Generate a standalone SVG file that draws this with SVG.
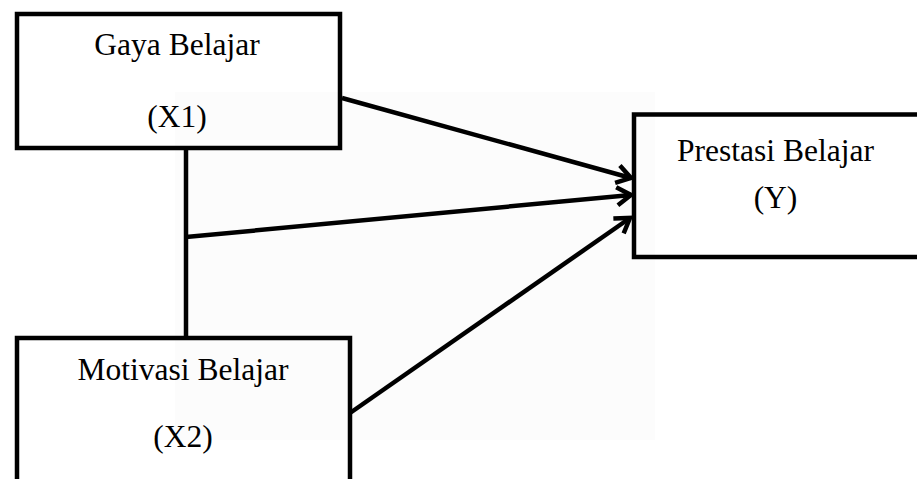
<svg xmlns="http://www.w3.org/2000/svg" width="917" height="479" viewBox="0 0 917 479">
<style>
.box{fill:none;stroke:#000;stroke-width:4.5}
.lbl{font-family:"Liberation Serif","Times New Roman",serif;font-size:31.5px;fill:#000;text-anchor:middle}
.con{fill:none;stroke:#000;stroke-width:4.5}
</style>
<defs>
<marker id="arr" markerUnits="userSpaceOnUse" markerWidth="24" markerHeight="24" refX="20" refY="12" orient="auto" viewBox="0 0 24 24">
<path d="M6,3 L20,12 L6,21" fill="none" stroke="#000" stroke-width="4.5" stroke-linejoin="miter"/>
</marker>
</defs>
<rect x="0" y="0" width="917" height="479" fill="#fff"/>
<rect x="175" y="92" width="480" height="348" fill="#fcfcfc"/>
<g id="connectors">
<line class="con" x1="186" y1="150" x2="186" y2="338"/>
<line class="con" x1="186" y1="237" x2="631" y2="195" marker-end="url(#arr)"/>
<line class="con" x1="342" y1="98" x2="631" y2="178" marker-end="url(#arr)"/>
<line class="con" x1="350" y1="413" x2="630" y2="218" marker-end="url(#arr)"/>
</g>
<g id="node-x1">
<rect class="box" x="17" y="14" width="323" height="134"/>
<text class="lbl" x="177" y="55">Gaya Belajar</text>
<text class="lbl" x="177" y="127">(X1)</text>
</g>
<g id="node-x2">
<rect class="box" x="17" y="338" width="333" height="160"/>
<text class="lbl" x="183" y="380">Motivasi Belajar</text>
<text class="lbl" x="183" y="447">(X2)</text>
</g>
<g id="node-y">
<rect class="box" x="634" y="114.5" width="300" height="142.5"/>
<text class="lbl" x="775.5" y="161">Prestasi Belajar</text>
<text class="lbl" x="775.5" y="208">(Y)</text>
</g>
</svg>
